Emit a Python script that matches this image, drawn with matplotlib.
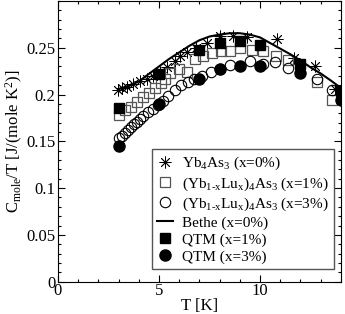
import matplotlib
matplotlib.use("Agg")
import matplotlib.pyplot as plt
from matplotlib.ticker import MultipleLocator

plt.rcParams['font.family'] = ['Liberation Serif', 'DejaVu Serif']
plt.rcParams['mathtext.fontset'] = 'custom'
plt.rcParams['mathtext.rm'] = 'Liberation Serif'
plt.rcParams['mathtext.it'] = 'Liberation Serif'

## Yb4As3 (x=0%) stars
star_T = [2.95, 3.15, 3.4, 3.7, 4.05, 4.4, 4.7, 5.05, 5.4, 5.8, 6.05, 6.4,
          6.85, 7.4, 8.0, 8.65, 9.35, 10.85, 11.7, 12.7, 13.7]
star_C = [0.205, 0.207, 0.208, 0.211, 0.214, 0.217, 0.220, 0.224, 0.229, 0.236, 0.241, 0.245,
          0.250, 0.255, 0.262, 0.263, 0.261, 0.259, 0.239, 0.230, 0.206]

## (Yb1-xLux)4As3 x=1% open squares
sq_T = [3.0, 3.3, 3.6, 3.9, 4.2, 4.5, 4.8, 5.1, 5.3, 5.55, 6.0, 6.4,
        6.8, 7.2, 7.6, 8.05, 8.5, 9.0, 9.6, 10.15, 10.8, 11.4, 12.8, 13.55]
sq_C = [0.178, 0.183, 0.187, 0.192, 0.197, 0.202, 0.207, 0.212, 0.217, 0.223, 0.227, 0.2245,
        0.238, 0.241, 0.244, 0.246, 0.247, 0.250, 0.248, 0.247, 0.241, 0.237, 0.2135, 0.194]

## (Yb1-xLux)4As3 x=3% open circles
circ_T = [3.0, 3.15, 3.3, 3.45, 3.6, 3.75, 3.9, 4.05, 4.2, 4.45, 4.7, 4.95, 5.2, 5.45,
          5.8, 6.1, 6.45, 6.75, 7.15, 7.55, 8.0, 8.5, 9.5, 10.15, 10.75, 11.4, 12.8, 13.55]
circ_C = [0.153, 0.156, 0.159, 0.162, 0.165, 0.168, 0.171, 0.174, 0.177, 0.181, 0.185, 0.189, 0.193, 0.198,
          0.205, 0.210, 0.213, 0.217, 0.220, 0.224, 0.227, 0.232, 0.236, 0.233, 0.235, 0.228, 0.217, 0.205]

## Bethe (x=0%)
bethe_T = [3.0, 3.5, 4.0, 4.5, 5.0, 5.5, 6.0, 6.5, 7.0, 7.5, 8.0, 8.5, 9.0,
           9.5, 10.0, 10.5, 11.0, 11.5, 12.0, 12.5, 13.0, 13.5, 14.0]
bethe_C = [0.206, 0.209, 0.214, 0.222, 0.230, 0.238, 0.245, 0.252, 0.258, 0.262, 0.264, 0.2655, 0.2655,
           0.264, 0.261, 0.255, 0.249, 0.243, 0.2365, 0.229, 0.2225, 0.215, 0.207]

## QTM
qtm1_T = [3, 5, 7, 8, 9, 10, 12, 14]
qtm1_C = [0.186, 0.222, 0.248, 0.255, 0.257, 0.253, 0.233, 0.204]
qtm3_T = [3, 5, 7, 8, 9, 10, 12, 14]
qtm3_C = [0.145, 0.190, 0.217, 0.227, 0.2305, 0.231, 0.223, 0.194]

fig = plt.figure(figsize=(3.45, 3.14), dpi=100)
ax = fig.add_axes([0.168, 0.103, 0.820, 0.894])

ax.plot(star_T, star_C, linestyle='none', marker=(8, 2, 0), markersize=8.5,
        markeredgecolor='black', markeredgewidth=0.6, label=r'Yb$_4$As$_3$ (x=0%)', zorder=3)
ax.plot(sq_T, sq_C, linestyle='none', marker='s', markersize=7, markerfacecolor='none',
        markeredgecolor='#555555', markeredgewidth=0.9,
        label=r'(Yb$_{1\text{-}x}$Lu$_x$)$_4$As$_3$ (x=1%)', zorder=3)
ax.plot(circ_T, circ_C, linestyle='none', marker='o', markersize=7.5, markerfacecolor='none',
        markeredgecolor='black', markeredgewidth=0.8,
        label=r'(Yb$_{1\text{-}x}$Lu$_x$)$_4$As$_3$ (x=3%)', zorder=3)
ax.plot(bethe_T, bethe_C, color='black', linewidth=1.5, label='Bethe (x=0%)', zorder=4)
ax.plot(qtm1_T, qtm1_C, linestyle='none', marker='s', markersize=7, color='black',
        label='QTM (x=1%)', zorder=5)
ax.plot(qtm3_T, qtm3_C, linestyle='none', marker='o', markersize=8, color='black',
        label='QTM (x=3%)', zorder=5)

ax.set_xlim(0, 14)
ax.set_ylim(0, 0.3)
ax.xaxis.set_major_locator(MultipleLocator(5))
ax.xaxis.set_minor_locator(MultipleLocator(1))
ax.yaxis.set_major_locator(MultipleLocator(0.05))
ax.yaxis.set_minor_locator(MultipleLocator(0.01))
ax.set_yticks([0, 0.05, 0.1, 0.15, 0.2, 0.25])
ax.set_yticklabels(['0', '0.05', '0.1', '0.15', '0.2', '0.25'])
ax.tick_params(which='both', direction='in', top=True, right=True, labelsize=12)
ax.tick_params(which='major', length=5, width=0.8)
ax.tick_params(which='minor', length=2.5, width=0.8)
ax.tick_params(axis='x', which='major', pad=1)
ax.tick_params(axis='y', which='major', pad=2)

ax.set_xlabel('T [K]', fontsize=12, labelpad=-1)
ax.set_ylabel(r'C$_{\mathrm{mole}}$/T [J/(mole K$^2$)]', fontsize=12, labelpad=1)

leg = ax.legend(loc='lower right', bbox_to_anchor=(0.975, 0.045), fontsize=11,
                fancybox=False, edgecolor='#555555', framealpha=1,
                handlelength=1.0, handletextpad=0.6, labelspacing=0.2,
                borderpad=0.35, borderaxespad=0)
leg.get_frame().set_linewidth(1.0)

fig.savefig('out.png', dpi=100)
